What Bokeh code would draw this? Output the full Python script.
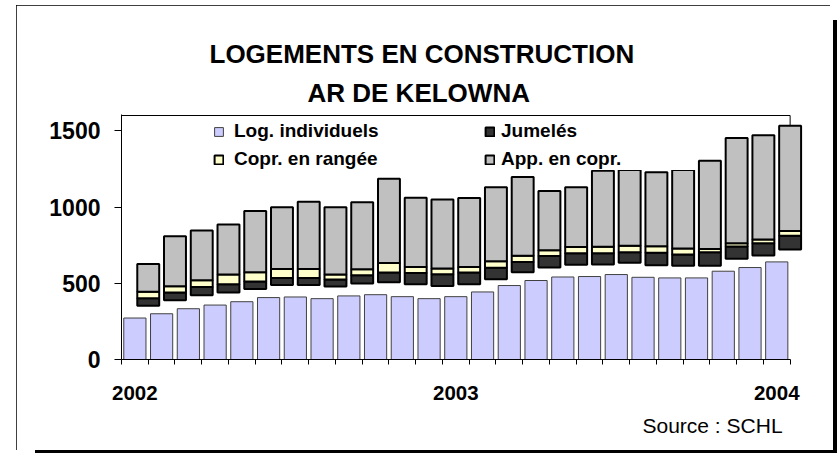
from bokeh.plotting import figure
from bokeh.models import Range1d, FixedTicker, Legend, LegendItem, Title
from bokeh.embed import file_html
from bokeh.resources import INLINE

# Months Jan 2002 .. Jan 2004
categories = list(range(1, 26))
tick_positions = [1, 13, 25]
tick_labels = ["2002", "2003", "2004"]
y_ticks = [0, 500, 1000, 1500]
y_max = 1600

individuels = [272, 300, 333, 357, 379, 406, 410, 399, 417, 425, 412, 399, 412,
               443, 485, 518, 541, 544, 557, 539, 535, 535, 579, 603, 640]
# bottom of the floating stacked column
stack_base = [353, 388, 421, 439, 463, 489, 489, 479, 498, 507, 493, 482, 493,
              526, 572, 603, 621, 623, 634, 618, 614, 614, 660, 682, 721]
jumeles = [48, 51, 55, 54, 48, 46, 46, 45, 55, 63, 75, 77, 77,
           75, 68, 75, 76, 74, 70, 82, 75, 90, 81, 81, 90]
rangee = [44, 41, 44, 64, 61, 59, 59, 33, 39, 62, 39, 37, 37,
          44, 40, 39, 40, 42, 42, 43, 39, 20, 22, 24, 31]
app_copr = [182, 329, 326, 329, 402, 404, 441, 441, 439, 554, 454, 454, 452,
            484, 517, 388, 392, 498, 497, 485, 515, 579, 689, 684, 691]

FONT = "Liberation Sans"

top_jum = [b + v for b, v in zip(stack_base, jumeles)]
top_rang = [b + v for b, v in zip(top_jum, rangee)]
top_app = [b + v for b, v in zip(top_rang, app_copr)]
x_stack = [c + 0.5 for c in categories]

p = figure(width=814, height=445, title=None,
           x_range=Range1d(categories[0] - 0.5, categories[-1] + 1.0),
           y_range=Range1d(0, y_max + 6.6),
           output_backend="svg", toolbar_location=None,
           min_border_left=105, min_border_right=27,
           min_border_top=109, min_border_bottom=91,
           margin=(5, 0, 0, 16))
p.styles = {"outline": "2px solid black", "outline-offset": "-2px",
            "box-shadow": "3px 0 0 0 white, 13px 9px 0 -6px black"}
p.grid.visible = False
p.outline_line_color = None
p.background_fill_color = "white"
p.border_fill_color = "white"

# plot-area top border
p.segment(x0=[categories[0] - 0.5], y0=[y_max], x1=[categories[-1] + 0.5], y1=[y_max],
          line_color="black", line_width=1)
p.segment(x0=[categories[-1] + 0.5], y0=[y_max], x1=[categories[-1] + 0.5], y1=[top_app[-1]],
          line_color="black", line_width=1)

r_ind = p.vbar(x=categories, top=individuels, bottom=0, width=0.83,
               fill_color="#CCCCFF", line_color="#404040", line_width=1)
r_jum = p.vbar(x=x_stack, bottom=stack_base, top=top_jum, width=0.82,
               fill_color="#333333", line_color="black", line_width=2)
r_rang = p.vbar(x=x_stack, bottom=top_jum, top=top_rang, width=0.82,
                fill_color="#FFFFCC", line_color="black", line_width=2)
r_app = p.vbar(x=x_stack, bottom=top_rang, top=top_app, width=0.82,
               fill_color="#C0C0C0", line_color="black", line_width=2)

# axes
xa = p.xaxis[0]
xa.ticker = FixedTicker(ticks=tick_positions,
                        minor_ticks=[c - 0.5 for c in categories] + [categories[-1] + 0.5])
xa.major_label_overrides = {t: l for t, l in zip(tick_positions, tick_labels)}
xa.bounds = (categories[0] - 0.5, categories[-1] + 0.5)
xa.major_tick_out = 0
xa.major_tick_in = 0
xa.minor_tick_out = 5
xa.minor_tick_in = 0
xa.minor_tick_line_color = "black"
xa.axis_line_color = "black"
xa.major_label_standoff = 21
xa.major_label_text_font = FONT
xa.major_label_text_font_style = "bold"
xa.major_label_text_font_size = "20.5px"
xa.major_label_text_color = "black"

ya = p.yaxis[0]
ya.ticker = FixedTicker(ticks=y_ticks, minor_ticks=[])
ya.major_tick_out = 7
ya.major_tick_in = 0
ya.minor_tick_out = 0
ya.minor_tick_in = 0
ya.major_tick_line_color = "black"
ya.axis_line_color = "black"
ya.major_label_standoff = 14
ya.major_label_text_font = FONT
ya.major_label_text_font_style = "bold"
ya.major_label_text_font_size = "23px"
ya.major_label_text_color = "black"

# titles (added nearest-first) and source
tstyle = dict(text_font=FONT, text_font_style="bold", text_font_size="26px",
              text_color="black", align="left")
p.add_layout(Title(text="AR DE KELOWNA", offset=186, standoff=14, **tstyle), "above")
p.add_layout(Title(text="LOGEMENTS EN CONSTRUCTION", offset=88, standoff=0, **tstyle), "above")
p.add_layout(Title(text="Source : SCHL", text_font=FONT, text_font_style="normal",
                   text_font_size="21px", text_color="black", align="left",
                   offset=521, standoff=19), "below")

common = dict(glyph_width=11, glyph_height=11, spacing=6, padding=0, margin=0,
              label_height=20, background_fill_color="white", background_fill_alpha=1.0,
              border_line_color=None, label_text_font=FONT, label_text_font_style="bold",
              label_text_font_size="19px", label_text_color="black")
leg1 = Legend(items=[LegendItem(label="Log. individuels", renderers=[r_ind]),
                     LegendItem(label="Copr. en rangée", renderers=[r_rang])],
              location=(92, 189), label_standoff=10, **common)
leg2 = Legend(items=[LegendItem(label="Jumelés", renderers=[r_jum]),
                     LegendItem(label="App. en copr.", renderers=[r_app])],
              location=(363, 189), label_standoff=6, label_width=196, **common)
p.add_layout(leg1)
p.add_layout(leg2)

open("out.html", "w").write(file_html(p, INLINE))
